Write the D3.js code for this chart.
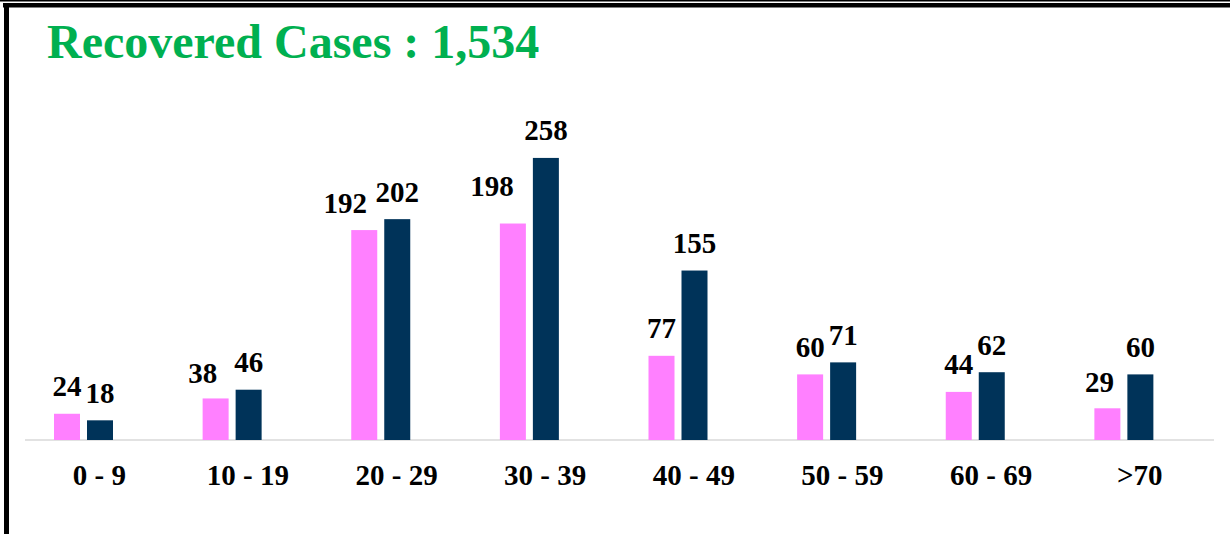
<!DOCTYPE html>
<html>
<head>
<meta charset="utf-8">
<script src="https://cdn.jsdelivr.net/npm/d3@7"></script>
<style>
    body { margin: 0; background: #fff; }
    svg { display: block; font-family: "Liberation Serif", "Times New Roman", serif; }
</style>
</head>
<body>
<div id="chart"></div>
<script>
// age groups and recovered counts per series
const categories = ["0 - 9", "10 - 19", "20 - 29", "30 - 39", "40 - 49", "50 - 59", "60 - 69", ">70"];
const female = [24, 38, 192, 198, 77, 60, 44, 29];
const male = [18, 46, 202, 258, 155, 71, 62, 60];
const seriesNames = ["female", "male"];
const title = "Recovered Cases : 1,534";

// hand-moved data labels in the original (pixels)
const labelNudge = {
    female: [[0, 0], [-13, 2], [-19, 0], [-21, -10], [0, 0], [0, 0], [0, 0], [-8, 1]],
    male: [[0, 0], [0, 0], [0, 0], [0, 0], [0, 0], [0, 0], [0, 0], [0, 0]]
};

const colors = {female: "#ff80ff", male: "#003359"};

const width = 1230, height = 534;

let svg = d3.select("#chart").append("svg")
    .attr("width", width)
    .attr("height", height);

// frame
svg.append("rect").attr("x", 0).attr("y", 0).attr("width", width).attr("height", 1.5).attr("fill", "#000");
svg.append("rect").attr("x", 3).attr("y", 3).attr("width", width - 3).attr("height", 4.5).attr("fill", "#000");
svg.append("rect").attr("x", 4).attr("y", 3).attr("width", 5).attr("height", height - 3).attr("fill", "#000");

svg.append("text")
    .attr("x", 47)
    .attr("y", 58)
    .attr("fill", "#00b050")
    .attr("font-size", 48)
    .attr("font-weight", "bold")
    .text(title);

let x = d3.scaleBand()
    .domain(categories)
    .range([25, 1214]);

// bars sit left of the band centre, as in the original
let xInner = d3.scaleBand()
    .domain(seriesNames)
    .range([29, 29 + 59])
    .paddingInner(7 / 33);

let y = d3.scaleLinear()
    .domain([0, 300])
    .range([440, 112]);

// baseline
svg.append("line")
    .attr("x1", x.range()[0])
    .attr("x2", x.range()[1])
    .attr("y1", y(0))
    .attr("y2", y(0))
    .attr("stroke", "#d9d9d9")
    .attr("stroke-width", 1.5);

let rows = [];
categories.forEach((c, i) => {
    rows.push({cat: c, i: i, key: "female", value: female[i]});
    rows.push({cat: c, i: i, key: "male", value: male[i]});
});

svg.append("g")
    .selectAll("rect")
    .data(rows)
    .enter()
    .append("rect")
    .attr("x", d => x(d.cat) + xInner(d.key))
    .attr("y", d => y(d.value))
    .attr("width", xInner.bandwidth())
    .attr("height", d => y(0) - y(d.value))
    .attr("fill", d => colors[d.key]);

svg.append("g")
    .selectAll("text")
    .data(rows)
    .enter()
    .append("text")
    .attr("x", d => x(d.cat) + xInner(d.key) + xInner.bandwidth() / 2 + labelNudge[d.key][d.i][0])
    .attr("y", d => y(d.value) - 17.5 + labelNudge[d.key][d.i][1])
    .attr("text-anchor", "middle")
    .attr("font-size", 29)
    .attr("font-weight", "bold")
    .attr("fill", "#000")
    .text(d => d.value);

// category labels
let xAxis = d3.axisBottom(x).tickSize(0).tickPadding(0);
let axisG = svg.append("g")
    .attr("transform", `translate(0, ${y(0)})`)
    .call(xAxis);
axisG.select(".domain").remove();
axisG.selectAll("text")
    .attr("y", 45)
    .attr("dy", null)
    .attr("font-family", "Liberation Serif, Times New Roman, serif")
    .attr("font-size", 29)
    .attr("font-weight", "bold")
    .attr("fill", "#000");
</script>
</body>
</html>
